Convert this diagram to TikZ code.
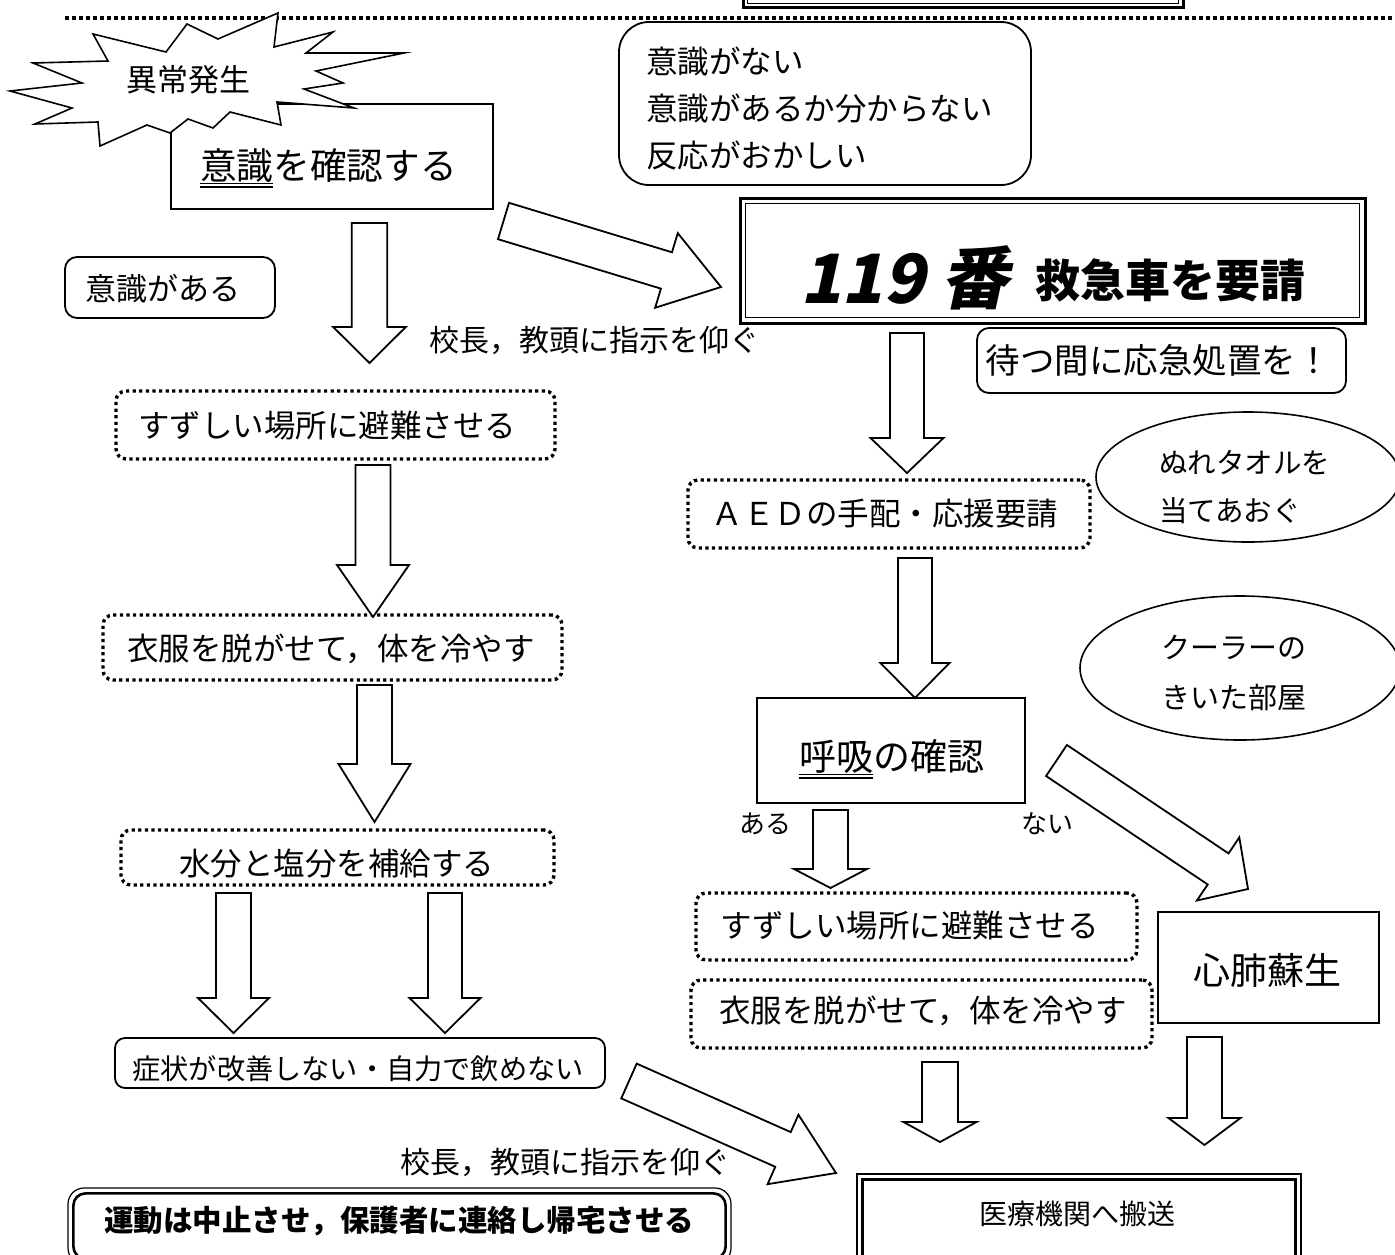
\documentclass[tikz,border=0pt]{standalone}
\usepackage{fontspec}
\setmainfont{Noto Sans CJK JP}
\newfontfamily\slantjp{Noto Sans CJK JP}[FakeSlant=0.22, BoldFeatures={FakeSlant=0.22}]
\usetikzlibrary{calc,shapes.geometric}
\newcommand{\jsz}[1]{\fontsize{#1}{#1}\selectfont}
\newcommand{\dul}[1]{\vtop{\hbox{#1}\kern0.5pt\hrule height 1.2pt\kern2.6pt\hrule height 1.2pt}}
\newcommand{\blockarrow}[6]{%
  \coordinate (#6h) at ($(#2)!#5!(#1)$);
  \draw[barrow] ($(#1)!#3!90:(#2)$) -- ($(#6h)!#3!90:(#2)$) -- ($(#6h)!#4!90:(#2)$) -- (#2)
    -- ($(#6h)!#4!-90:(#2)$) -- ($(#6h)!#3!-90:(#2)$) -- ($(#1)!#3!-90:(#2)$) -- cycle;
}
\begin{document}
\begin{tikzpicture}[x=1pt,y=-1pt,
  box/.style={draw, line width=1.8pt, fill=white, inner sep=0pt},
  rbox/.style={box, rounded corners=12pt},
  dbox/.style={draw, line width=3.4pt, dash pattern=on 3.2pt off 3.4pt, rounded corners=10pt, inner sep=0pt},
  ell/.style={draw, ellipse, line width=1.6pt, inner sep=0pt},
  barrow/.style={draw, line width=1.8pt, fill=white, line join=miter},
  txt/.style={inner sep=0pt, anchor=base},
  ltxt/.style={inner sep=0pt, anchor=base west},
  dotline/.style={line width=3.5pt, dash pattern=on 3.5pt off 3.5pt}
]
\useasboundingbox (0,0) rectangle (1395,1255);
\fill[white] (0,0) rectangle (1395,1255);

% top dotted line and cut-off title box
\coordinate (dl1) at (65,18);
\coordinate (dl2) at (1395,18);
\draw[dotline] (dl1) -- (dl2);
\node[box, line width=3pt, minimum width=440, minimum height=40] (topbox) at (963,-12) {};
\draw[line width=1.2pt] ($(topbox.south west)+(6,-6)$) rectangle ($(topbox.north east)+(-6,6)$);

% check consciousness
\node[box, minimum width=322, minimum height=105] (kakunin) at (332,156.5) {};
\node[txt] (kakunintxt) at (328.5,179) {\jsz{36.7}\dul{意識}を確認する};

% starburst
\draw[line width=1.6pt, fill=white, line join=miter] (10,91) -- (82,83) -- (33,63) -- (108,61) -- (93,34)
 -- (166,52) -- (187,24) -- (218,39) -- (278,13) -- (274,47) -- (333,32) -- (306,53) -- (404,53)
 -- (316,71) -- (343,83) -- (304,89) -- (354,108) -- (277,102) -- (281,125) -- (230,112) -- (213,128)
 -- (188,119) -- (170,133) -- (147,125) -- (100,146) -- (98,122) -- (35,124) -- (72,108) -- cycle;
\node[txt] (ijo) at (188,92) {\jsz{31}異常発生};

% no consciousness box
\node[box, rounded corners=30pt, minimum width=412, minimum height=163] (nai) at (825,103.5) {};
\node[ltxt] (nai1) at (646,74) {\jsz{31.5}意識がない};
\node[ltxt] (nai2) at (646,120) {\jsz{31.5}意識があるか分からない};
\node[ltxt] (nai3) at (646,167) {\jsz{31.5}反応がおかしい};

% 119 box
\node[box, line width=3pt, minimum width=625, minimum height=125] (q119) at (1052.5,260.5) {};
\draw[line width=1.2pt] ($(q119.south west)+(7,-7)$) rectangle ($(q119.north east)+(-7,7)$);
\node[ltxt] (q119a) at (800,303) {\jsz{68}\slantjp\bfseries 119 番};
\node[ltxt] (q119b) at (1035,297) {\jsz{45}\bfseries 救急車を要請};

% wait box
\node[rbox, minimum width=369, minimum height=65] (matsu) at (1161.5,360.5) {};
\node[txt] (matsutxt) at (1158,373) {\jsz{34.5}待つ間に応急処置を！};

% conscious
\node[rbox, minimum width=210, minimum height=61] (aru) at (170,287.5) {};
\node[txt] (arutxt) at (163,300) {\jsz{31}意識がある};
\node[ltxt] (kocho1) at (429,351) {\jsz{30}校長，教頭に指示を仰ぐ};

% left column
\node[dbox, minimum width=439, minimum height=68] (suzuL) at (335.5,425) {};
\node[txt] (suzuLt) at (327,437) {\jsz{31.5}すずしい場所に避難させる};
\node[dbox, minimum width=459, minimum height=65] (ifukuL) at (332.5,647.5) {};
\node[txt] (ifukuLt) at (331,660) {\jsz{31.5}衣服を脱がせて，体を冷やす};
\node[dbox, minimum width=433, minimum height=55] (suibun) at (337.5,857.5) {};
\node[txt] (suibunt) at (336.5,875) {\jsz{31.5}水分と塩分を補給する};
\node[box, rounded corners=10pt, minimum width=490, minimum height=50] (shojo) at (360,1063) {};
\node[txt] (shojot) at (358,1079) {\jsz{28.2}症状が改善しない・自力で飲めない};
\node[ltxt] (kocho2) at (400,1173) {\jsz{30}校長，教頭に指示を仰ぐ};
\node[box, line width=1.2pt, rounded corners=16pt, minimum width=663, minimum height=76] (undo) at (399.5,1226) {};
\draw[line width=2.6pt, rounded corners=12pt] ($(undo.south west)+(6,-6)$) rectangle ($(undo.north east)+(-6,6)$);
\node[txt] (undot) at (399,1231) {\jsz{29.5}\bfseries 運動は中止させ，保護者に連絡し帰宅させる};

% right column
\node[dbox, minimum width=402, minimum height=68] (aed) at (889,514) {};
\node[txt] (aedt) at (885,525) {\jsz{31.5}ＡＥＤの手配・応援要請};
\node[ell, minimum width=304, minimum height=130] (nure) at (1248,477) {};
\node[ltxt] (nure1) at (1159,473) {\jsz{28.5}ぬれタオルを};
\node[ltxt] (nure2) at (1159,521) {\jsz{28.5}当てあおぐ};
\node[ell, minimum width=320, minimum height=144] (cool) at (1240,668) {};
\node[ltxt] (cool1) at (1161,658) {\jsz{29}クーラーの};
\node[ltxt] (cool2) at (1161,708) {\jsz{29}きいた部屋};
\node[box, minimum width=268, minimum height=105] (kokyu) at (891,750.5) {};
\node[txt] (kokyut) at (891.5,770) {\jsz{37}\dul{呼吸}の確認};
\node[txt] (arut2) at (765,833) {\jsz{26}ある};
\node[txt] (nait2) at (1047,833) {\jsz{26}ない};
\node[dbox, minimum width=441, minimum height=67] (suzuR) at (916.5,926.5) {};
\node[txt] (suzuRt) at (909.5,937) {\jsz{31.5}すずしい場所に避難させる};
\node[dbox, minimum width=461, minimum height=68] (ifukuR) at (921.5,1014) {};
\node[txt] (ifukuRt) at (923,1022) {\jsz{31.5}衣服を脱がせて，体を冷やす};
\node[box, minimum width=221, minimum height=111] (shinpai) at (1268.5,967.5) {};
\node[txt] (shinpait) at (1267.5,984) {\jsz{37}心肺蘇生};
\node[box, line width=1.4pt, minimum width=444, minimum height=88] (iryo) at (1079,1218) {};
\draw[line width=3pt] ($(iryo.south west)+(6,-6)$) rectangle ($(iryo.north east)+(-6,6)$);
\node[txt] (iryot) at (1077.5,1224) {\jsz{28}医療機関へ搬送};

% block arrows
\coordinate (aAt) at (369.5,223);  \coordinate (aAp) at (369.5,363);
\coordinate (aBt) at (373,465);    \coordinate (aBp) at (373,617);
\coordinate (aCt) at (374.5,685);  \coordinate (aCp) at (374.5,822);
\coordinate (aDt) at (233.5,893);  \coordinate (aDp) at (233.5,1033);
\coordinate (aEt) at (445,893);    \coordinate (aEp) at (445,1033);
\coordinate (aFt) at (907,333);    \coordinate (aFp) at (907,473);
\coordinate (aGt) at (915,558);    \coordinate (aGp) at (915,698);
\coordinate (aHt) at (830.5,810);  \coordinate (aHp) at (830.5,888);
\coordinate (aIt) at (940,1062);   \coordinate (aIp) at (940,1142);
\coordinate (aJt) at (1204.5,1037);\coordinate (aJp) at (1204.5,1145);
\coordinate (d1t) at (503.5,221);  \coordinate (d1p) at (721,287);
\coordinate (d2t) at (1056.5,760.5); \coordinate (d2p) at (1248,889);
\coordinate (d3t) at (629,1081);   \coordinate (d3p) at (836,1173);

\blockarrow{aAt}{aAp}{17.8pt}{36.3pt}{36pt}{aA}
\blockarrow{aBt}{aBp}{17.5pt}{36pt}{52pt}{aB}
\blockarrow{aCt}{aCp}{17.5pt}{36pt}{58pt}{aC}
\blockarrow{aDt}{aDp}{17.5pt}{35.5pt}{35pt}{aD}
\blockarrow{aEt}{aEp}{17pt}{35.5pt}{35pt}{aE}
\blockarrow{aFt}{aFp}{17pt}{36.5pt}{35pt}{aF}
\blockarrow{aGt}{aGp}{17pt}{34.5pt}{35pt}{aG}
\blockarrow{aHt}{aHp}{17.5pt}{36.5pt}{19pt}{aH}
\blockarrow{aIt}{aIp}{18pt}{36.5pt}{20pt}{aI}
\blockarrow{aJt}{aJp}{17.5pt}{36pt}{27pt}{aJ}
\blockarrow{d1t}{d1p}{19pt}{39pt}{57pt}{d1}
\blockarrow{d2t}{d2p}{18.7pt}{38pt}{36pt}{d2}
\blockarrow{d3t}{d3p}{19pt}{38pt}{58pt}{d3}
\end{tikzpicture}
\end{document}
